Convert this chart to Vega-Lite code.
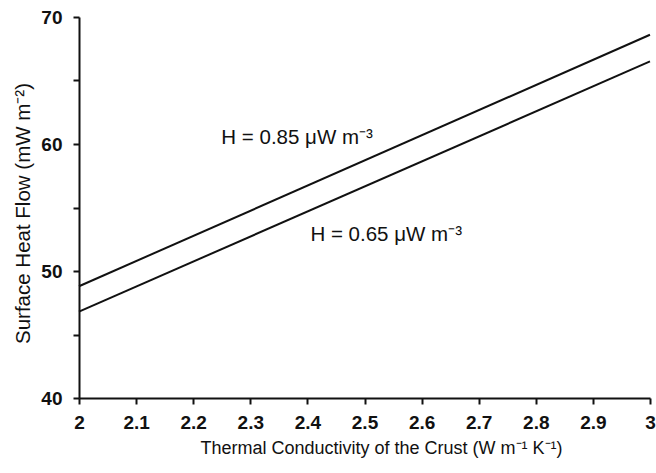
{
  "$schema": "https://vega.github.io/schema/vega-lite/v6.json",
  "width": 571,
  "height": 381,
  "autosize": {"type": "none"},
  "padding": {"left": 79, "top": 17, "right": 6, "bottom": 75},
  "background": "white",
  "config": {
    "view": {"stroke": null},
    "font": "Liberation Sans",
    "axis": {
      "grid": false,
      "domainColor": "#111",
      "domainWidth": 2,
      "tickColor": "#111",
      "tickWidth": 2,
      "tickSize": 6,
      "labelColor": "#111",
      "labelFont": "Liberation Sans",
      "labelFontSize": 19,
      "labelFontWeight": "bold",
      "titleColor": "#111",
      "titleFont": "Liberation Sans",
      "titleFontWeight": "normal"
    }
  },
  "datasets": {
    "lines": [
      {"k": 2, "q": 48.8, "series": "H = 0.85"},
      {"k": 3, "q": 68.6, "series": "H = 0.85"},
      {"k": 2, "q": 46.8, "series": "H = 0.65"},
      {"k": 3, "q": 66.5, "series": "H = 0.65"}
    ],
    "labels": [
      {"k": 2.382, "q": 60.45, "text": "H = 0.85 μW m⁻³"},
      {"k": 2.538, "q": 52.8, "text": "H = 0.65 μW m⁻³"}
    ]
  },
  "layer": [
    {
      "data": {"name": "lines"},
      "mark": {"type": "line", "color": "#111", "strokeWidth": 2},
      "encoding": {
        "x": {
          "field": "k", "type": "quantitative",
          "scale": {"domain": [2, 3], "nice": false, "zero": false},
          "axis": {
            "title": "Thermal Conductivity of the Crust (W m⁻¹ K⁻¹)",
            "titleFontSize": 18,
            "titleX": 302,
            "titleAlign": "center",
            "values": [2, 2.1, 2.2, 2.3, 2.4, 2.5, 2.6, 2.7, 2.8, 2.9, 3],
            "labelExpr": "format(datum.value, '.2~f')",
            "labelPadding": 9,
            "titlePadding": 7,
            "labelFlush": false,
            "labelOverlap": false
          }
        },
        "y": {
          "field": "q", "type": "quantitative",
          "scale": {"domain": [40, 70], "nice": false, "zero": false},
          "axis": {
            "title": "Surface Heat Flow (mW m⁻²)",
            "titleFontSize": 20.5,
            "titleY": 196,
            "titleAlign": "center",
            "values": [40, 45, 50, 55, 60, 65, 70],
            "labelExpr": "datum.value % 10 === 0 ? datum.label : ''",
            "labelPadding": 11,
            "titlePadding": 7,
            "labelFlush": false,
            "labelOverlap": false
          }
        },
        "detail": {"field": "series"}
      }
    },
    {
      "data": {"name": "labels"},
      "mark": {"type": "text", "color": "#111", "fontSize": 20.5, "font": "Liberation Sans", "align": "center", "baseline": "middle"},
      "encoding": {
        "x": {"field": "k", "type": "quantitative"},
        "y": {"field": "q", "type": "quantitative"},
        "text": {"field": "text"}
      }
    }
  ]
}
